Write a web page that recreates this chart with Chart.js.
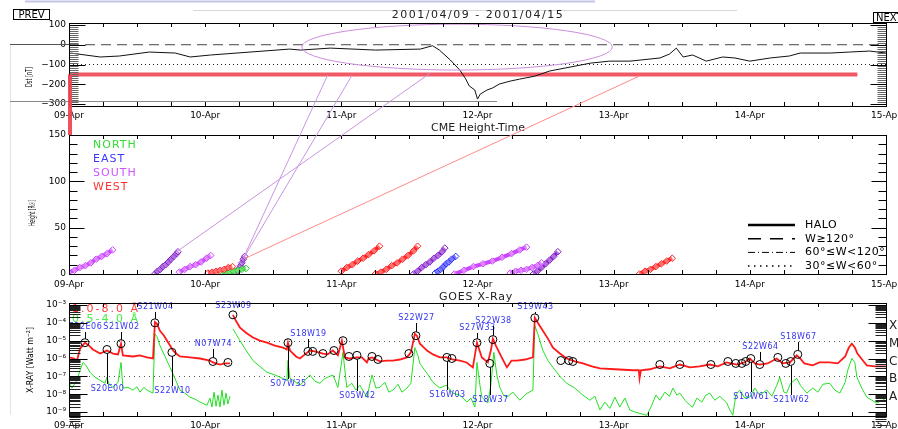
<!DOCTYPE html>
<html>
<head>
<meta charset="utf-8">
<script src="https://cdn.jsdelivr.net/npm/chart.js@4.4.1/dist/chart.umd.min.js"></script>
<style>
  body { margin: 0; background: #fff; }
  #wrap { position: relative; width: 898px; height: 429px; overflow: hidden; background: #fff; }
  canvas { position: absolute; left: 0; top: 0; }
</style>
</head>
<body>
<div id="wrap">
  <canvas id="dst" width="898" height="429"></canvas>
  <canvas id="cme" width="898" height="429"></canvas>
  <canvas id="xray" width="898" height="429"></canvas>
</div>
<script>
// ---------------- data ----------------
var dayLabels = ['09-Apr', '10-Apr', '11-Apr', '12-Apr', '13-Apr', '14-Apr', '15-Apr'];

// Dst index [day of April, nT]
var dstSeries = [
  [9.01,-42],[9.23,-62],[9.37,-57],[9.59,-37],[9.78,-42],[9.89,-62],[10.04,-52],[10.33,-37],
  [10.62,-22],[10.70,-27],[10.92,-17],[11.25,-27],[11.58,-22],[11.67,-5],[11.72,-27],[11.80,-77],
  [11.87,-128],[11.91,-169],[11.94,-209],[11.98,-229],[12.00,-275],[12.02,-250],[12.07,-229],
  [12.11,-219],[12.16,-199],[12.24,-184],[12.31,-174],[12.42,-159],[12.53,-133],[12.68,-113],
  [12.83,-93],[12.97,-83],[13.12,-83],[13.34,-67],[13.41,-47],[13.46,-17],[13.51,-62],[13.58,-52],
  [13.68,-83],[13.80,-62],[13.89,-67],[14.00,-83],[14.15,-67],[14.29,-57],[14.37,-42],[14.59,-42],
  [14.73,-37],[14.88,-32],[15.00,-42]
];
var dstLevels = [0, -100, -150];
var dstLevelEnd = [15, 15, 14.79];
var dstTicks = [100, 0, -100, -200, -300];
var dstTickLabels = ['100', '0', '\u2212100', '\u2212200', '\u2212300'];
var stormOval = [11.85, -12, 1.14, 116];   // centre day, centre nT, half width (days), half height (nT)

// CME height-time tracks
var cmeDir = ['S','SE','S','W','N','SE','W','W','SE','E','S','S','SE','W'];
var cmeDay = [
  [9.00,9.04,9.08,9.12,9.16,9.20,9.24,9.28,9.32],
  [9.63,9.65,9.67,9.69,9.71,9.73,9.75,9.77,9.79,9.80],
  [9.81,9.85,9.89,9.93,9.97,10.01,10.04],
  [10.02,10.05,10.08,10.11,10.14,10.17,10.20],
  [10.12,10.15,10.18,10.21,10.24,10.27,10.30],
  [10.23,10.24,10.25,10.26,10.27,10.28,10.29],
  [11.00,11.04,11.08,11.12,11.16,11.20,11.24,11.28],
  [11.25,11.29,11.33,11.37,11.41,11.45,11.49,11.53,11.56],
  [11.53,11.56,11.59,11.62,11.65,11.68,11.71,11.74,11.76],
  [11.69,11.71,11.73,11.75,11.77,11.79,11.81,11.84],
  [11.83,11.90,11.97,12.04,12.11,12.18,12.25,12.31,12.36],
  [12.24,12.28,12.32,12.36,12.40,12.44,12.47],
  [12.41,12.44,12.47,12.50,12.53,12.56,12.59],
  [13.19,13.23,13.27,13.31,13.35,13.39,13.43]
];
var cmeHeight = [
  [2,4,7,9,12,16,19,22,26],
  [0,3,5,8,10,13,16,19,22,24],
  [2,5,8,10,13,17,20],
  [1,2,3,4,5,7,8],
  [1,2,2,3,4,5,6],
  [0,3,6,9,12,16,19],
  [3,7,10,14,17,21,25,30],
  [0,2,5,9,12,16,20,25,30],
  [0,3,7,10,13,17,20,24,28],
  [1,3,5,8,11,13,16,19],
  [0,4,8,11,14,18,22,26,29],
  [1,3,4,5,7,9,12],
  [0,3,7,11,15,19,24],
  [0,3,5,8,11,14,17]
];
var cmeTicks = [0, 50, 100, 150];
// CME -> Dst links: [cme day, cme height, dst day, dst nT, kind]
var links = [
  [9.00, 150, 9.00, -150, 'bar'],
  [9.79, 24, 11.65, -145, 'S'],
  [10.28, 17, 10.90, -153, 'S'],
  [10.29, 19, 11.08, -153, 'S'],
  [10.28, 16, 13.19, -158, 'W']
];

// GOES X-ray flux [day, W m^-2]
var goesLong = [
  [9.000,1.15e-6],[9.037,1.0e-6],[9.059,7.7e-7],[9.081,3.6e-6],[9.117,7.7e-6],[9.147,5.3e-6],[9.176,3.2e-6],
  [9.228,1.9e-6],[9.279,2.8e-6],[9.323,1.9e-6],[9.360,1.7e-6],[9.382,6.8e-6],[9.396,1.5e-6],[9.470,1.3e-6],
  [9.520,1.5e-6],[9.573,1.15e-6],[9.617,1.0e-6],[9.631,1.1e-4],[9.646,8.8e-5],[9.668,3.6e-5],[9.698,1.9e-5],
  [9.720,1.0e-5],[9.742,5.3e-6],[9.764,2.8e-6],[9.786,1.9e-6],[9.815,1.3e-6],[9.888,1.15e-6],[9.962,1.0e-6],
  [10.035,7.7e-7],[10.057,6.0e-7],[10.109,4.6e-7],[10.145,5.3e-7],[10.182,5.3e-7],[10.190,null],
  [10.204,2.8e-4],[10.226,1.3e-4],[10.256,5.3e-5],[10.300,2.8e-5],[10.351,1.5e-5],[10.402,1.0e-5],
  [10.454,7.7e-6],[10.512,5.3e-6],[10.571,4.1e-6],[10.600,3.2e-6],[10.608,7.7e-6],[10.623,2.8e-6],
  [10.667,1.3e-6],[10.696,1.0e-6],[10.733,1.7e-6],[10.769,2.8e-6],[10.806,2.5e-6],[10.865,1.9e-6],
  [10.900,1.7e-6],[10.938,2.8e-6],[10.975,1.5e-6],[11.004,1.0e-5],[11.026,1.15e-6],[11.063,1.0e-6],
  [11.115,1.15e-6],[11.151,1.15e-6],[11.188,6.0e-7],[11.200,1.0e-6],[11.225,1.15e-6],[11.283,7.0e-7],
  [11.335,7.7e-7],[11.379,7.7e-7],[11.430,8.8e-7],[11.482,1.15e-6],[11.511,2.2e-6],[11.540,2.4e-5],
  [11.555,1.9e-5],[11.577,6.8e-6],[11.629,2.8e-6],[11.673,1.7e-6],[11.724,1.15e-6],[11.775,1.15e-6],
  [11.820,8.8e-7],[11.871,7.7e-7],[11.920,6.0e-7],[11.966,3.2e-7],[11.996,7.7e-6],[12.010,3.6e-6],
  [12.032,1.15e-6],[12.076,6.0e-7],[12.098,2.8e-6],[12.113,1.3e-5],[12.135,5.3e-6],[12.164,1.9e-6],
  [12.190,7.7e-7],[12.216,3.2e-7],[12.250,7.7e-7],[12.289,7.7e-7],[12.350,8.8e-7],[12.407,1.15e-6],
  [12.421,1.9e-4],[12.443,1.0e-4],[12.480,3.6e-5],[12.517,1.3e-5],[12.554,4.1e-6],[12.605,1.9e-6],
  [12.656,1.0e-6],[12.715,7.0e-7],[12.774,5.3e-7],[12.840,3.6e-7],[12.899,2.8e-7],[13.010,2.5e-7],
  [13.141,2.2e-7],[13.185,2.2e-7],[13.190,7.7e-8],[13.200,2.2e-7],[13.266,2.5e-7],[13.339,3.6e-7],
  [13.413,2.8e-7],[13.486,4.6e-7],[13.560,3.2e-7],[13.630,3.6e-7],[13.706,4.6e-7],[13.765,3.6e-7],
  [13.830,6.0e-7],[13.905,4.6e-7],[13.963,6.0e-7],[14.000,1.0e-6],[14.037,5.3e-7],[14.073,4.6e-7],
  [14.130,5.3e-7],[14.198,1.0e-6],[14.240,5.3e-7],[14.294,6.0e-7],[14.345,1.5e-6],[14.370,1.0e-6],
  [14.400,5.3e-7],[14.462,4.1e-7],[14.510,6.0e-7],[14.587,6.0e-7],[14.646,5.3e-7],[14.700,1.3e-6],
  [14.727,4.1e-6],[14.749,6.8e-6],[14.771,4.1e-6],[14.790,1.9e-6],[14.830,7.7e-7],[14.859,4.1e-7],
  [14.918,3.6e-7],[15.000,3.6e-7]
];
var goesShort = [
  [9.000,4.6e-8],[9.022,2.2e-8],[9.059,6.0e-8],[9.081,2.2e-7],[9.103,6.0e-7],[9.125,4.1e-7],[9.154,1.7e-7],
  [9.190,9.0e-8],[9.228,6.0e-8],[9.264,4.1e-8],[9.279,9.0e-8],[9.294,3.6e-8],[9.323,2.4e-8],[9.360,4.6e-8],
  [9.382,6.0e-7],[9.396,2.2e-8],[9.433,2.4e-8],[9.470,1.7e-8],[9.499,2.6e-8],[9.521,1.3e-8],[9.550,2.4e-8],
  [9.573,1.7e-8],[9.617,1.15e-8],[9.631,2.4e-5],[9.646,1.7e-5],[9.668,5.3e-6],[9.705,1.3e-6],[9.742,3.2e-7],
  [9.778,7.7e-8],[9.815,1.7e-8],[9.850,1.15e-8],[9.888,6.8e-9],[9.925,5.3e-9],[9.962,3.6e-9],[10.013,2.4e-9],
  [10.035,6.0e-9],[10.050,1.9e-9],[10.065,1.3e-8],[10.080,2.1e-9],[10.094,8.9e-9],[10.109,1.9e-9],
  [10.123,1.7e-8],[10.138,2.4e-9],[10.153,1.15e-8],[10.167,2.8e-9],[10.182,7.7e-9],[10.190,null],
  [10.204,4.6e-5],[10.226,2.4e-5],[10.256,1.0e-5],[10.292,3.6e-6],[10.351,7.7e-7],[10.402,3.6e-7],
  [10.454,1.7e-7],[10.512,1.2e-7],[10.571,7.7e-8],[10.600,6.0e-8],[10.608,7.7e-7],[10.623,7.7e-8],
  [10.645,6.0e-8],[10.696,3.2e-8],[10.733,6.0e-8],[10.769,1.2e-7],[10.806,5.3e-8],[10.843,4.1e-8],
  [10.880,7.7e-8],[10.938,1.2e-7],[10.975,2.4e-8],[11.012,2.2e-6],[11.040,2.4e-8],[11.077,4.1e-8],
  [11.107,1.7e-8],[11.136,3.2e-8],[11.166,1.3e-8],[11.188,6.8e-9],[11.225,1.2e-7],[11.254,2.2e-8],
  [11.283,2.4e-8],[11.320,4.6e-8],[11.349,1.3e-8],[11.379,1.7e-8],[11.416,3.6e-8],[11.445,1.3e-8],
  [11.482,2.2e-8],[11.511,4.1e-8],[11.540,4.1e-6],[11.562,1.5e-6],[11.577,5.3e-7],[11.607,2.5e-7],
  [11.629,1.5e-7],[11.673,4.6e-8],[11.724,2.2e-8],[11.770,3.2e-8],[11.820,1.15e-8],[11.871,8.9e-9],
  [11.922,3.6e-9],[11.952,6.0e-9],[11.981,1.9e-9],[11.996,6.0e-7],[12.018,3.2e-8],[12.032,6.8e-9],
  [12.076,3.2e-9],[12.098,3.2e-8],[12.120,2.2e-6],[12.142,1.2e-7],[12.164,2.4e-8],[12.190,8.9e-9],
  [12.216,6.8e-9],[12.260,1.3e-8],[12.311,4.6e-9],[12.355,1.0e-8],[12.407,1.7e-8],[12.421,6.8e-5],
  [12.443,2.4e-5],[12.480,2.8e-6],[12.517,7.7e-7],[12.554,3.2e-7],[12.605,1.0e-7],[12.656,4.1e-8],
  [12.715,2.2e-8],[12.774,8.9e-9],[12.825,4.6e-9],[12.862,7.7e-9],[12.899,1.3e-9],[12.935,3.6e-9],
  [12.972,1.6e-9],[13.009,6.8e-9],[13.045,1.9e-9],[13.082,6.0e-9],[13.119,1.3e-9],[13.156,1.0e-9],
  [13.244,6.5e-10],[13.280,2.4e-9],[13.310,8.9e-9],[13.339,4.6e-9],[13.376,1.3e-8],[13.410,7.7e-9],
  [13.435,2.2e-8],[13.464,8.9e-9],[13.486,1.15e-8],[13.523,4.6e-9],[13.560,2.4e-9],[13.580,1.9e-9],
  [13.611,6.0e-9],[13.647,3.6e-9],[13.677,8.9e-9],[13.706,1.15e-8],[13.743,4.6e-9],[13.780,7.7e-9],
  [13.831,3.2e-9],[13.853,1.3e-9],[13.875,6.5e-10],[13.897,8.9e-9],[13.926,1.7e-8],[13.963,6.0e-9],
  [14.000,6.8e-9],[14.037,2.2e-8],[14.073,8.9e-9],[14.125,1.7e-8],[14.162,7.7e-9],[14.198,3.2e-8],
  [14.220,9.0e-8],[14.250,1.3e-8],[14.270,1.15e-8],[14.300,4.1e-8],[14.345,7.7e-8],[14.370,3.2e-8],
  [14.419,1.15e-8],[14.462,2.2e-8],[14.500,1.3e-8],[14.536,3.6e-8],[14.587,4.1e-8],[14.624,1.7e-8],
  [14.661,1.15e-8],[14.700,4.6e-8],[14.719,2.2e-7],[14.749,1.0e-6],[14.771,6.0e-7],[14.786,9.0e-8],
  [14.822,2.2e-8],[14.859,6.8e-9],[14.896,4.6e-9],[14.932,3.2e-9],[14.976,4.6e-9],[15.000,6.0e-9]
];
// flares: [day, peak flux, location]
var flares = [
  [9.117,7.7e-6,'S22E06'],[9.279,3.2e-6,'S20E00'],[9.382,6.8e-6,'S21W02'],[9.631,1.0e-4,'S21W04'],
  [9.756,2.2e-6,'S22W10'],[10.057,6.8e-7,'N07W74'],[10.167,6.0e-7,''],[10.204,2.8e-4,'S23W09'],
  [10.608,7.7e-6,'S07W35'],[10.755,2.5e-6,'S18W19'],[10.790,2.5e-6,''],[10.865,1.9e-6,''],
  [10.946,2.8e-6,''],[11.012,1.0e-5,''],[11.056,1.3e-6,''],[11.115,1.5e-6,'S05W42'],
  [11.225,1.3e-6,''],[11.269,8.8e-7,''],[11.496,1.9e-6,''],[11.548,1.9e-5,'S22W27'],
  [11.775,1.15e-6,'S16W03'],[11.812,1.0e-6,''],[11.996,7.7e-6,'S27W33'],[12.091,5.3e-7,'S18W37'],
  [12.113,1.15e-5,'S22W38'],[12.421,1.9e-4,'S19W43'],[12.612,7.7e-7,''],[12.671,7.7e-7,''],
  [12.700,6.8e-7,''],[13.339,4.6e-7,''],[13.486,4.6e-7,''],[13.714,4.6e-7,''],[13.839,6.8e-7,''],
  [13.897,5.3e-7,''],[13.941,5.3e-7,''],[13.970,6.8e-7,''],[14.007,1.0e-6,'S19W61'],
  [14.073,4.6e-7,'S22W64'],[14.206,1.15e-6,''],[14.264,5.3e-7,''],[14.300,6.8e-7,'S21W62'],
  [14.352,1.7e-6,'S18W67']
];
var xrayTicks = [1e-9, 1e-8, 1e-7, 1e-6, 1e-5, 1e-4, 1e-3];
var xrayTickLabels = ['10\u207B\u2079','10\u207B\u2078','10\u207B\u2077','10\u207B\u2076','10\u207B\u2075','10\u207B\u2074','10\u207B\u00B3'];
var xrayClass = ['A', 'B', 'C', 'M', 'X'];
var xrayClassFlux = [1e-8, 1e-7, 1e-6, 1e-5, 1e-4];

// ---------------- layout ----------------
var W = 898, H = 429, LEFT = 69, RIGHT = 886;
var FONT = "'DejaVu Sans', sans-serif";
// text row (pixel y) of each flare location label
var labelRow = {
  S22E06: 327, S20E00: 389, S21W02: 327, S21W04: 307, S22W10: 391, N07W74: 344, S23W09: 306,
  S07W35: 384, S18W19: 334, S05W42: 396, S22W27: 318, S16W03: 395, S27W33: 328, S18W37: 400,
  S22W38: 321, S19W43: 307, S19W61: 397, S22W64: 347, S21W62: 400, S18W67: 337
};
var cmeColor = { N: '#22cc22', E: '#2b2bff', S: '#cc44ff', SE: '#8420cc', W: '#ff2222' };

Chart.defaults.font.family = FONT;
Chart.defaults.font.size = 9;
Chart.defaults.color = '#000';
Chart.defaults.animation = false;
Chart.defaults.events = [];
Chart.defaults.plugins.legend.display = false;
Chart.defaults.plugins.tooltip.enabled = false;

function txt(ctx, s, x, y, o) {
  o = o || {};
  ctx.save();
  ctx.font = o.font || ('9px ' + FONT);
  ctx.fillStyle = o.color || '#000';
  ctx.textAlign = o.align || 'left';
  ctx.textBaseline = 'middle';
  if (o.spacing) ctx.letterSpacing = o.spacing + 'px';
  ctx.translate(x, y);
  if (o.rot) ctx.rotate(o.rot);
  if (o.max) ctx.fillText(s, 0, 0, o.max); else ctx.fillText(s, 0, 0);
  ctx.restore();
}
function seg(ctx, x0, y0, x1, y1, color, width, dash) {
  ctx.save();
  ctx.strokeStyle = color;
  ctx.lineWidth = width || 1;
  ctx.setLineDash(dash || []);
  ctx.beginPath();
  ctx.moveTo(x0, y0);
  ctx.lineTo(x1, y1);
  ctx.stroke();
  ctx.restore();
}

function xAxis(h, pad) {
  return {
    type: 'linear', min: 9, max: 15,
    grid: { display: false, drawTicks: false }, border: { display: false },
    ticks: { autoSkip: false, maxRotation: 0, padding: pad, callback: function (v) { return dayLabels[Math.round(v - 9)]; } },
    afterBuildTicks: function (s) { s.ticks = dayLabels.map(function (d, i) { return { value: 9 + i }; }); },
    afterFit: function (s) { s.height = h; s.paddingLeft = 0; s.paddingRight = 0; }
  };
}
function yAxis(type, min, max, ticks, labels) {
  return {
    type: type, min: min, max: max,
    grid: { display: false, drawTicks: false }, border: { display: false },
    ticks: { autoSkip: false, padding: 3, callback: function (v) { return labels[ticks.indexOf(v)]; } },
    afterBuildTicks: function (s) { s.ticks = ticks.map(function (v) { return { value: v }; }); },
    afterFit: function (s) { s.width = LEFT; s.paddingTop = 0; s.paddingBottom = 0; }
  };
}

// frame with inward tick marks on all four sides
var framePlugin = {
  id: 'frame',
  afterDatasetsDraw: function (chart, args, o) {
    var ctx = chart.ctx, a = chart.chartArea, x = chart.scales.x, y = chart.scales.y;
    var L = Math.round(a.left) + 0.5, R = Math.round(a.right) + 0.5;
    o.yMinor.forEach(function (v) {
      var py = Math.round(y.getPixelForValue(v)) + 0.5;
      seg(ctx, L, py, L + o.minorLen, py, o.minorColor);
      seg(ctx, R, py, R - o.minorLen, py, o.minorColor);
    });
    o.yMajor.forEach(function (v) {
      var py = Math.round(y.getPixelForValue(v)) + 0.5;
      seg(ctx, L, py, L + o.majorLen, py, '#000');
      seg(ctx, R, py, R - o.majorLen, py, '#000');
    });
    for (var t = 9; t <= 15.001; t += 0.25) {
      var px = Math.round(x.getPixelForValue(t)) + 0.5;
      seg(ctx, px, a.bottom, px, a.bottom - 4, '#000');
      seg(ctx, px, a.top, px, a.top + 4, '#000');
    }
    ctx.save();
    ctx.strokeStyle = '#000';
    ctx.lineWidth = 1;
    ctx.strokeRect(L, Math.round(a.top) + 0.5, R - L, Math.round(a.bottom - a.top));
    ctx.restore();
  }
};

function range(a, b, step) { var r = []; for (var v = a; v <= b + 1e-9; v += step) r.push(v); return r; }
function logMinor(d0, d1) { var r = []; for (var d = d0; d <= d1; d++) for (var k = 2; k <= 9; k++) r.push(k * Math.pow(10, d)); return r; }

// ---------------- Dst panel ----------------
var dstDeco = {
  id: 'dstDeco',
  afterDatasetsDraw: function (chart) {
    var ctx = chart.ctx, x = chart.scales.x, y = chart.scales.y;
    var cx = x.getPixelForValue(stormOval[0]), cy = y.getPixelForValue(stormOval[1]);
    var rx = x.getPixelForValue(stormOval[0] + stormOval[2]) - cx;
    var ry = y.getPixelForValue(stormOval[1] - stormOval[3]) - cy;
    ctx.save();
    ctx.strokeStyle = '#cc8ddc';
    ctx.lineWidth = 1;
    ctx.beginPath();
    ctx.ellipse(cx, cy, rx, ry, 0, 0, Math.PI * 2);
    ctx.stroke();
    ctx.restore();
  },
  afterDraw: function (chart) {
    var ctx = chart.ctx;
    seg(ctx, 25, 1.5, 595, 1.5, '#c4c4e4', 2);
    seg(ctx, 193, 10.5, 737, 10.5, '#d8d8d8');
    seg(ctx, 10.5, 45, 10.5, 415, '#e2e2e2');
    seg(ctx, 10, 44.5, LEFT, 44.5, '#555');
    seg(ctx, 10, 101.5, 497, 101.5, '#888');
    ctx.save();
    ctx.strokeStyle = '#000';
    ctx.strokeRect(13.5, 9.5, 36, 10);
    ctx.strokeRect(873.5, 12.5, 30, 10);
    ctx.restore();
    txt(ctx, 'PREV', 31.5, 15, { font: '10px ' + FONT, align: 'center', max: 34 });
    txt(ctx, 'NEXT', 876, 18, { font: '10px ' + FONT });
    txt(ctx, '2001/04/09 - 2001/04/15', 478, 15, { font: '11px ' + FONT, align: 'center', spacing: 1.5, color: '#222' });
    txt(ctx, 'Dst [nT]', 30, 77, { font: '8px ' + FONT, align: 'center', rot: -Math.PI / 2, max: 20 });
  }
};

var levelStyle = [
  { color: '#444', width: 1, dash: [10, 6] },
  { color: '#222', width: 1, dash: [1, 3] },
  { color: 'rgba(240,72,84,0.9)', width: 4, dash: [] }
];
var dstSets = dstLevels.map(function (v, i) {
  return {
    data: [{ x: 9, y: v }, { x: dstLevelEnd[i], y: v }],
    borderColor: levelStyle[i].color, borderWidth: levelStyle[i].width, borderDash: levelStyle[i].dash,
    pointRadius: 0, order: 3 - i
  };
});
dstSets.push({
  data: dstSeries.map(function (p) { return { x: p[0], y: p[1] }; }),
  borderColor: '#111', borderWidth: 1, pointRadius: 0, tension: 0, order: 0
});

var dstChart = new Chart(document.getElementById('dst'), {
  type: 'line',
  data: { datasets: dstSets },
  options: {
    responsive: false,
    layout: { padding: { left: 0, right: W - RIGHT, top: 23, bottom: H - 106 - 20 } },
    scales: {
      x: xAxis(20, 4),
      y: yAxis('linear', -310, 110, dstTicks, dstTickLabels)
    },
    plugins: { frame: { yMinor: range(-300, 100, 10), yMajor: dstTicks, minorLen: 9, majorLen: 16, minorColor: '#666' } }
  },
  plugins: [dstDeco, framePlugin]
});

// ---------------- CME height-time panel ----------------
var cmeDeco = {
  id: 'cmeDeco',
  afterDatasetsDraw: function (chart) {
    var ctx = chart.ctx;
    txt(ctx, 'CME Height-Time', 478, 128, { font: '11px ' + FONT, align: 'center', color: '#222' });
    var names = ['NORTH', 'EAST', 'SOUTH', 'WEST'];
    var cols = ['#33dd33', '#3a3aff', '#cc55ff', '#ff3333'];
    names.forEach(function (n, i) {
      txt(ctx, n, 93, 145 + i * 14, { font: '11px ' + FONT, color: cols[i], spacing: 1 });
    });
    var styles = [
      { t: 'HALO', w: 2.5, d: [] },
      { t: 'W\u2265120\u00B0', w: 1.5, d: [13, 9] },
      { t: '60\u00B0\u2264W<120\u00B0', w: 1, d: [7, 3, 1, 3] },
      { t: '30\u00B0\u2264W<60\u00B0', w: 1.5, d: [1.5, 4.5] }
    ];
    styles.forEach(function (s, i) {
      var yy = 225 + i * 13.7;
      seg(ctx, 748, yy, 795, yy, '#000', s.w, s.d);
      txt(ctx, s.t, 805, yy, { font: '11px ' + FONT, spacing: 0.5 });
    });
    txt(ctx, 'Height [R\u2609]', 33, 213, { font: '8px ' + FONT, align: 'center', rot: -Math.PI / 2, max: 26 });
  },
  afterDraw: function (chart) {
    var ctx = chart.ctx, x = chart.scales.x, y = chart.scales.y;
    var dx = dstChart.scales.x, dy = dstChart.scales.y;
    links.forEach(function (l) {
      var x0 = x.getPixelForValue(l[0]), y0 = y.getPixelForValue(l[1]);
      var x1 = dx.getPixelForValue(l[2]), y1 = dy.getPixelForValue(l[3]);
      if (l[4] === 'bar') seg(ctx, x0 + 1, y0, x1 + 1, y1, 'rgba(240,72,84,0.95)', 4);
      else seg(ctx, x0, y0, x1, y1, l[4] === 'W' ? '#ff8a8a' : '#c995e2', 1);
    });
  }
};

var cmeSets = cmeDay.map(function (days, i) {
  var c = cmeColor[cmeDir[i]];
  return {
    data: days.map(function (d, j) { return { x: d, y: cmeHeight[i][j] }; }),
    borderColor: c, borderWidth: 4, tension: 0,
    pointStyle: 'rectRot', pointRadius: 3.3, pointBorderColor: c, pointBorderWidth: 1,
    pointBackgroundColor: 'rgba(255,255,255,0.35)'
  };
});

var cmeChart = new Chart(document.getElementById('cme'), {
  type: 'line',
  data: { datasets: cmeSets },
  options: {
    responsive: false,
    layout: { padding: { left: 0, right: W - RIGHT, top: 135, bottom: H - 274 - 20 } },
    scales: {
      x: xAxis(20, 5),
      y: yAxis('linear', 0, 150, cmeTicks, cmeTicks.map(String))
    },
    plugins: { frame: { yMinor: range(10, 140, 10), yMajor: cmeTicks, minorLen: 8, majorLen: 15, minorColor: '#000' } }
  },
  plugins: [cmeDeco, framePlugin]
});

// ---------------- GOES X-ray panel ----------------
var xrayDeco = {
  id: 'xrayDeco',
  beforeDatasetsDraw: function (chart) {
    var ctx = chart.ctx, a = chart.chartArea, y = chart.scales.y;
    [1e-5, 1e-7].forEach(function (v) {
      var py = Math.round(y.getPixelForValue(v)) + 0.5;
      seg(ctx, a.left, py, a.right, py, '#555', 1, [1, 4]);
    });
  },
  afterDatasetsDraw: function (chart) {
    var ctx = chart.ctx, x = chart.scales.x, y = chart.scales.y;
    flares.forEach(function (f) {
      if (!f[2]) return;
      var px = Math.round(x.getPixelForValue(f[0])) + 0.5, py = y.getPixelForValue(f[1]);
      var ly = labelRow[f[2]];
      if (ly < py) seg(ctx, px, ly + 5, px, py - 4, '#000');
      else seg(ctx, px, py + 4, px, ly - 5, '#000');
      txt(ctx, f[2], px, ly, { font: '8px ' + FONT, color: '#3434f0', align: 'center', spacing: 0.5 });
    });
    txt(ctx, 'GOES X-Ray', 476, 297, { font: '11px ' + FONT, align: 'center', spacing: 0.8, color: '#222' });
    txt(ctx, '1.0-8.0 \u00C5', 72, 309, { font: '11px ' + FONT, color: '#ff3b3b', spacing: 2 });
    txt(ctx, '0.5-4.0 \u00C5', 72, 319, { font: '11px ' + FONT, color: '#44ee44', spacing: 2 });
    txt(ctx, 'X-RAY [Watt m\u207B\u00B2]', 31, 360, { font: '9px ' + FONT, align: 'center', rot: -Math.PI / 2, max: 66 });
    xrayClass.forEach(function (c, i) {
      txt(ctx, c, 889, y.getPixelForValue(xrayClassFlux[i]) + 3, { font: '12px ' + FONT, color: '#222' });
    });
  }
};

new Chart(document.getElementById('xray'), {
  type: 'line',
  data: {
    datasets: [
      {
        data: flares.map(function (f) { return { x: f[0], y: f[1] }; }),
        showLine: false, pointStyle: 'circle', pointRadius: 4,
        pointBorderColor: '#000', pointBorderWidth: 1, pointBackgroundColor: 'rgba(0,0,0,0)', order: 0
      },
      {
        data: goesLong.map(function (p) { return { x: p[0], y: p[1] }; }),
        borderColor: '#ff1a1a', borderWidth: 1.8, pointRadius: 0, tension: 0, spanGaps: false, order: 1
      },
      {
        data: goesShort.map(function (p) { return { x: p[0], y: p[1] }; }),
        borderColor: '#22e022', borderWidth: 1, pointRadius: 0, tension: 0, spanGaps: false, order: 2
      }
    ]
  },
  options: {
    responsive: false,
    layout: { padding: { left: 0, right: W - RIGHT, top: 303, bottom: 0 } },
    scales: {
      x: xAxis(13, 4),
      y: yAxis('logarithmic', 6e-10, 1.29e-3, xrayTicks, xrayTickLabels)
    },
    plugins: { frame: { yMinor: logMinor(-10, -4), yMajor: xrayTicks, minorLen: 11, majorLen: 18, minorColor: '#222' } }
  },
  plugins: [xrayDeco, framePlugin]
});
</script>
</body>
</html>
